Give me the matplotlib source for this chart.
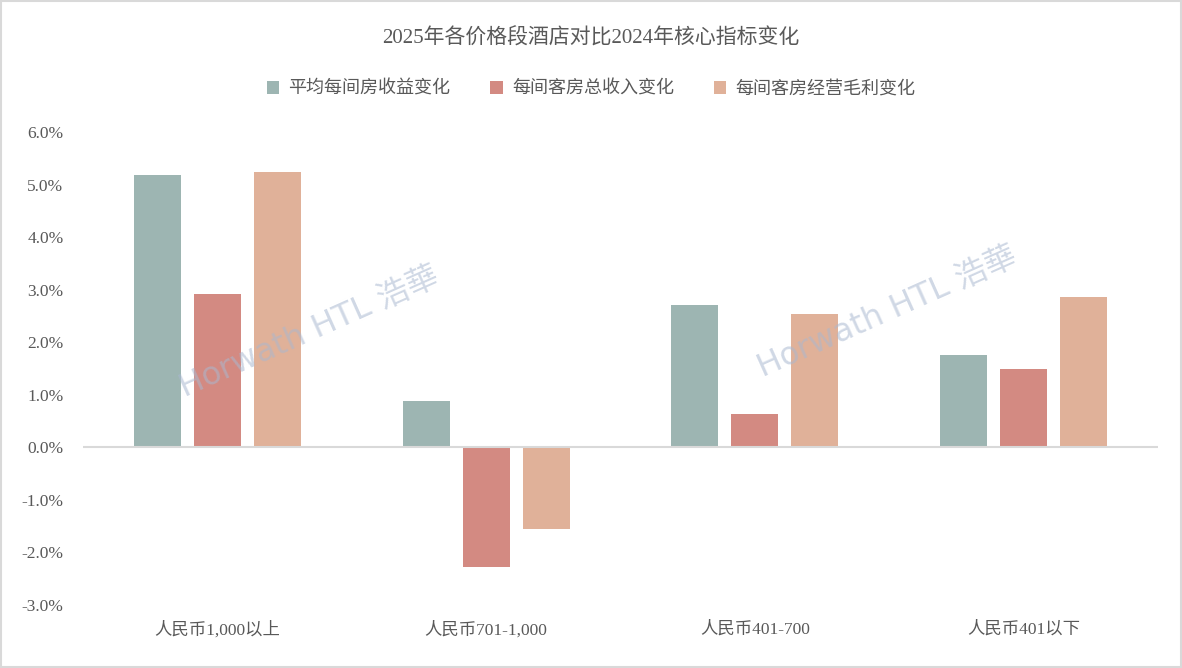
import numpy as np
import matplotlib.pyplot as plt
from matplotlib.patches import Rectangle

plt.rcParams['font.family'] = ['Liberation Serif', 'Noto Sans CJK SC', 'DejaVu Sans']

categories = ["人民币1,000以上", "人民币701-1,000", "人民币401-700", "人民币401以下"]
series_names = ["平均每间房收益变化", "每间客房总收入变化", "每间客房经营毛利变化"]
revpar_chg = [5.18, 0.88, 2.70, 1.75]
trevpar_chg = [2.91, -2.27, 0.63, 1.49]
gop_chg = [5.24, -1.55, 2.53, 2.86]
colors = ["#9DB5B2", "#D38A82", "#E0B199"]

txt = "#595959"
fig = plt.figure(figsize=(11.82, 6.68), dpi=100)
ax = fig.add_axes([83 / 1182, 63 / 668, 1075 / 1182, 473 / 668])

x = np.arange(len(categories))
w = 0.175
off = 0.223
for i, vals in enumerate([revpar_chg, trevpar_chg, gop_chg]):
    ax.bar(x + (i - 1) * off, vals, width=w, color=colors[i], label=series_names[i], zorder=2)

ax.set_xlim(-0.5, len(categories) - 0.5)
ax.set_ylim(-3, 6)
ax.set_yticks(np.arange(-3, 7, 1))
ax.set_yticklabels([f"{v:.1f}%" for v in np.arange(-3, 7, 1)], color=txt, fontsize=12.5)
ax.set_xticks(x)
ax.set_xticklabels(categories, color=txt, fontsize=12.5)
ax.tick_params(length=0)
ax.tick_params(axis='x', pad=12)
ax.tick_params(axis='y', pad=14)
for s in ax.spines.values():
    s.set_visible(False)
ax.axhline(0, color="#D9D9D9", lw=1.5, zorder=3)

fig.suptitle("2025年各价格段酒店对比2024年核心指标变化", y=1 - 38 / 668, va='center',
             fontsize=15, color=txt)
fig.legend(loc='center', bbox_to_anchor=(0.5, 1 - 89 / 668), ncol=3, frameon=False,
           fontsize=13, handlelength=0.7, handleheight=0.7, columnspacing=2.2,
           handletextpad=0.5, labelcolor=txt)

# watermark
for wx, wy in [(0.262, 0.503), (0.751, 0.533)]:
    fig.text(wx, wy, "Horwath HTL 浩華", rotation=24, fontsize=23, color="#A9B8D0",
             alpha=0.55, ha='center', va='center', family=['DejaVu Sans', 'Noto Sans CJK TC'],
             zorder=5)

fig.patches.append(Rectangle((0.001, 0.001), 0.998, 0.997, transform=fig.transFigure,
                             fill=False, edgecolor="#D9D9D9", lw=1.5))

fig.savefig("out.png", dpi=100)
